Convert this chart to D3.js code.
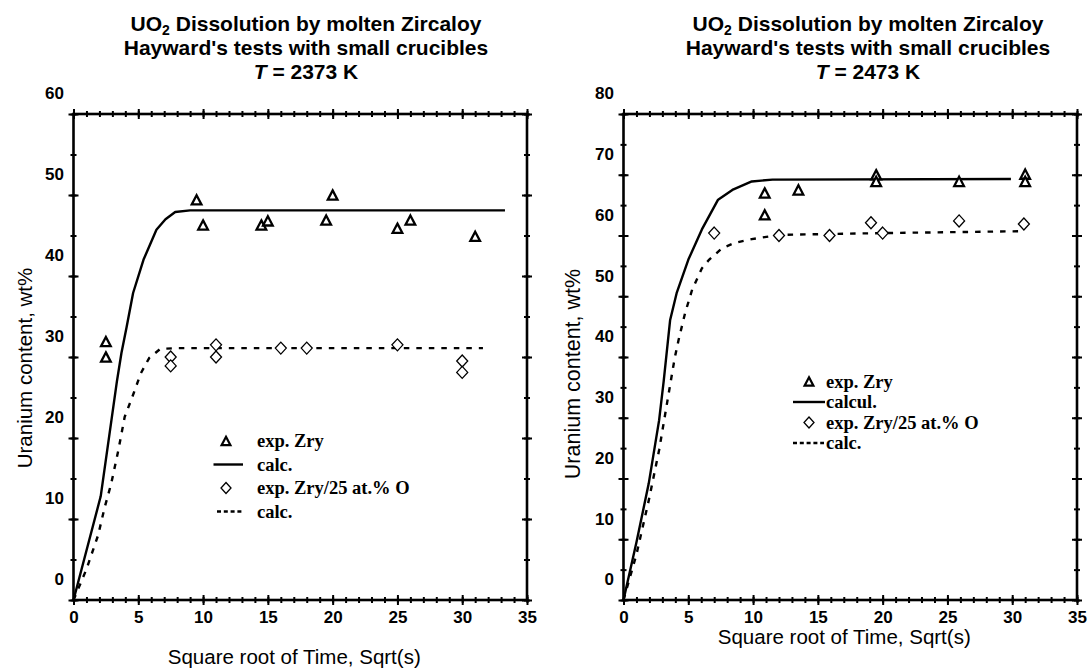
<!DOCTYPE html>
<html>
<head>
<meta charset="utf-8">
<script src="https://cdn.jsdelivr.net/npm/d3@7"></script>
<style>
  body { margin: 0; background: #fff; }
  svg { display: block; }
</style>
</head>
<body>
<div id="canvas"></div>
<script>
"use strict";

// ---- Data ----
let xTickLabels = [0, 5, 10, 15, 20, 25, 30, 35];
let leftYTickLabels = [0, 10, 20, 30, 40, 50, 60];
let rightYTickLabels = [0, 10, 20, 30, 40, 50, 60, 70, 80];

// T = 2373 K
let leftZry = [[2.5, 31.9], [2.5, 30.0], [9.5, 49.4], [10.0, 46.3], [14.5, 46.3], [15.0, 46.8],
  [20.0, 50.0], [19.5, 46.9], [25.0, 45.9], [26.0, 46.9], [31.0, 44.9]];
let leftZryCalc = [[0, 0], [2.1, 12.8], [3.35, 27.0], [3.7, 30.5], [4.1, 33.7], [4.6, 37.9], [5.4, 42.0],
  [6.4, 45.7], [7.1, 47.0], [7.85, 47.9], [9.0, 48.1], [33.3, 48.1]];
let leftZryO = [[7.5, 30.0], [7.5, 28.9], [11.0, 31.5], [11.0, 30.0], [16.0, 31.1], [18.0, 31.1],
  [25.0, 31.5], [30.0, 29.5], [30.0, 28.1]];
let leftZryOCalc = [[0, 0], [1.0, 3.8], [1.9, 8.0], [2.4, 11.4], [2.9, 14.3], [3.45, 18.4], [3.95, 22.6],
  [4.5, 24.9], [5.2, 28.0], [5.85, 29.9], [6.7, 31.0], [8.0, 31.1], [31.6, 31.1]];

// T = 2473 K
let rightZry = [[10.9, 67.0], [10.9, 63.4], [13.5, 67.5], [19.5, 70.0], [19.5, 68.9], [25.9, 68.9],
  [31.0, 70.1], [31.0, 68.9]];
let rightZryCalc = [[0, 0], [1.0, 9.5], [1.95, 19.2], [2.75, 29.6], [3.1, 36.0], [3.6, 46.1], [4.1, 50.5],
  [5.0, 56.0], [6.05, 61.0], [7.3, 65.9], [8.4, 67.5], [9.9, 68.9], [11.5, 69.2], [29.9, 69.3]];
let rightZryO = [[7.0, 60.4], [12.0, 60.0], [15.9, 60.0], [19.1, 62.1], [20.0, 60.4], [25.9, 62.4], [30.9, 61.9]];
let rightZryOCalc = [[0, 0], [1.0, 7.5], [1.95, 16.4], [2.75, 24.7], [3.4, 32.9], [3.95, 39.8], [4.25, 42.8],
  [4.75, 47.2], [5.3, 51.1], [6.05, 54.6], [6.6, 56.0], [7.6, 57.9], [8.6, 58.8], [9.9, 59.4], [12.0, 60.1],
  [20.0, 60.4], [30.5, 60.7]];

let legendLabelsLeft = ["exp. Zry", "calc.", "exp. Zry/25 at.% O", "calc."];
let legendLabelsRight = ["exp. Zry", "calcul.", "exp. Zry/25 at.% O", "calc."];

// ---- Canvas ----
let svgWidth = 1089;
let svgHeight = 670;
let sansFont = "'Liberation Sans', Arial, sans-serif";
let serifFont = "'Liberation Serif', 'Times New Roman', serif";

let svg = d3.select("#canvas")
  .append("svg")
  .attr("width", svgWidth)
  .attr("height", svgHeight);

svg.append("rect").attr("width", svgWidth).attr("height", svgHeight).attr("fill", "white");

// panel layout (pixels)
let panels = [
  {
    left: 73.5, right: 527, top: 114, bottom: 600, yMax: 60, yLabels: leftYTickLabels,
    temp: "2373", titleX: 306, xTitleY: 664, yTitleX: 32, yTitleY: 368, yTitleSize: 20.5,
    zry: leftZry, zryCalc: leftZryCalc, zryO: leftZryO, zryOCalc: leftZryOCalc,
    legendLabels: legendLabelsLeft,
    legend: { textX: 257, rows: [441, 464.5, 488, 511.5], sym: 226, lineX0: 213.5, lineX1: 243, dashX0: 217 }
  },
  {
    left: 623.5, right: 1077, top: 114, bottom: 600, yMax: 80, yLabels: rightYTickLabels,
    temp: "2473", titleX: 868, xTitleY: 644, yTitleX: 580, yTitleY: 374, yTitleSize: 21.5,
    zry: rightZry, zryCalc: rightZryCalc, zryO: rightZryO, zryOCalc: rightZryOCalc,
    legendLabels: legendLabelsRight,
    legend: { textX: 826, rows: [381.5, 402, 422.5, 443], sym: 809, lineX0: 793, lineX1: 825, dashX0: 793 }
  }
];

// marker shapes
function trianglePath(s) {
  return "M0," + (-s) + "L" + (s * 1.05) + "," + s + "L" + (-s * 1.05) + "," + s + "Z";
}
function diamondPath(w, h) {
  return "M0," + (-h) + "L" + w + ",0L0," + h + "L" + (-w) + ",0Z";
}

panels.forEach(function(p) {
  let g = svg.append("g");

  let xScale = d3.scaleLinear().domain([0, 35]).range([p.left, p.right]);
  let yScale = d3.scaleLinear().domain([0, p.yMax]).range([p.bottom, p.top]);

  // Title (three lines, subscript 2, italic T)
  let t1 = g.append("text")
    .attr("x", p.titleX).attr("y", 31)
    .attr("text-anchor", "middle")
    .style("font-family", sansFont)
    .style("font-size", "21px")
    .style("font-weight", "700");
  t1.append("tspan").text("UO");
  t1.append("tspan").attr("baseline-shift", "-4").style("font-size", "14px").text("2");
  t1.append("tspan").text(" Dissolution by molten Zircaloy");

  g.append("text")
    .attr("x", p.titleX).attr("y", 55)
    .attr("text-anchor", "middle")
    .style("font-family", sansFont)
    .style("font-size", "21px")
    .style("font-weight", "700")
    .text("Hayward's tests with small crucibles");

  let t3 = g.append("text")
    .attr("x", p.titleX).attr("y", 79)
    .attr("text-anchor", "middle")
    .style("font-family", sansFont)
    .style("font-size", "21px")
    .style("font-weight", "700");
  t3.append("tspan").style("font-style", "italic").text("T");
  t3.append("tspan").text(" = " + p.temp + " K");

  // Axes: minor ticks first, then major ticks with labels
  function styleTicks(axisG, half, horizontal) {
    axisG.select(".domain").remove();
    axisG.selectAll(".tick line")
      .attr("stroke", "#000")
      .attr("stroke-width", 2)
      .attr(horizontal ? "y1" : "x1", -half)
      .attr(horizontal ? "y2" : "x2", half);
  }

  let xMinor = d3.range(0, 36, 1);
  let yMinor = d3.range(0, p.yMax + 1, 5);

  let bottomMinor = g.append("g").attr("transform", "translate(0," + p.bottom + ")")
    .call(d3.axisBottom(xScale).tickValues(xMinor).tickFormat(""));
  styleTicks(bottomMinor, 3, true);
  let topMinor = g.append("g").attr("transform", "translate(0," + p.top + ")")
    .call(d3.axisTop(xScale).tickValues(xMinor).tickFormat(""));
  styleTicks(topMinor, 3, true);
  let leftMinor = g.append("g").attr("transform", "translate(" + p.left + ",0)")
    .call(d3.axisLeft(yScale).tickValues(yMinor).tickFormat(""));
  styleTicks(leftMinor, 3, false);
  let rightMinor = g.append("g").attr("transform", "translate(" + p.right + ",0)")
    .call(d3.axisRight(yScale).tickValues(yMinor).tickFormat(""));
  styleTicks(rightMinor, 3, false);

  let xAxis = g.append("g").attr("transform", "translate(0," + p.bottom + ")")
    .call(d3.axisBottom(xScale).tickValues(xTickLabels).tickFormat(d3.format("d")));
  styleTicks(xAxis, 5, true);
  xAxis.selectAll(".tick text")
    .attr("y", 10.5)
    .attr("dy", "0.71em")
    .attr("fill", "#000")
    .style("font-family", sansFont)
    .style("font-size", "17px")
    .style("font-weight", "700");
  let xTop = g.append("g").attr("transform", "translate(0," + p.top + ")")
    .call(d3.axisTop(xScale).tickValues(xTickLabels).tickFormat(""));
  styleTicks(xTop, 5, true);

  // y labels sit about 21px above their ticks in the original
  let yAxis = g.append("g").attr("transform", "translate(" + p.left + ",0)")
    .call(d3.axisLeft(yScale).tickValues(p.yLabels).tickFormat(d3.format("d")));
  styleTicks(yAxis, 5, false);
  yAxis.selectAll(".tick text")
    .attr("x", -9.5)
    .attr("y", -21)
    .attr("dy", "0.35em")
    .attr("fill", "#000")
    .style("font-family", sansFont)
    .style("font-size", "17px")
    .style("font-weight", "700");
  let yRight = g.append("g").attr("transform", "translate(" + p.right + ",0)")
    .call(d3.axisRight(yScale).tickValues(p.yLabels).tickFormat(""));
  styleTicks(yRight, 5, false);

  // Frame
  g.append("rect")
    .attr("x", p.left).attr("y", p.top)
    .attr("width", p.right - p.left).attr("height", p.bottom - p.top)
    .attr("fill", "none")
    .attr("stroke", "#000")
    .attr("stroke-width", 2.6);

  // Axis titles
  g.append("text")
    .attr("x", (p.left + p.right) / 2 - 6)
    .attr("y", p.xTitleY)
    .attr("text-anchor", "middle")
    .style("font-family", sansFont)
    .style("font-size", "20.5px")
    .text("Square root of Time, Sqrt(s)");
  g.append("text")
    .attr("transform", "translate(" + p.yTitleX + "," + p.yTitleY + ") rotate(-90)")
    .attr("text-anchor", "middle")
    .style("font-family", sansFont)
    .style("font-size", p.yTitleSize + "px")
    .text("Uranium content, wt%");

  // Calculated curves
  let line = d3.line()
    .x(function(d) { return xScale(d[0]); })
    .y(function(d) { return yScale(d[1]); });

  g.append("path")
    .attr("d", line(p.zryCalc))
    .attr("fill", "none")
    .attr("stroke", "#000")
    .attr("stroke-width", 2.4)
    .attr("stroke-linejoin", "round");
  g.append("path")
    .attr("d", line(p.zryOCalc))
    .attr("fill", "none")
    .attr("stroke", "#000")
    .attr("stroke-width", 2.4)
    .attr("stroke-dasharray", "5.5,7");

  // Experimental points
  g.selectAll(".tri")
    .data(p.zry)
    .enter()
    .append("path")
    .attr("class", "tri")
    .attr("transform", function(d) { return "translate(" + xScale(d[0]) + "," + yScale(d[1]) + ")"; })
    .attr("d", trianglePath(4.6))
    .attr("fill", "white")
    .attr("stroke", "#000")
    .attr("stroke-width", 2.3)
    .attr("stroke-linejoin", "miter");
  g.selectAll(".dia")
    .data(p.zryO)
    .enter()
    .append("path")
    .attr("class", "dia")
    .attr("transform", function(d) { return "translate(" + xScale(d[0]) + "," + yScale(d[1]) + ")"; })
    .attr("d", diamondPath(5.5, 6))
    .attr("fill", "white")
    .attr("stroke", "#000")
    .attr("stroke-width", 1.3);

  // Legend
  let lg = p.legend;
  g.append("path")
    .attr("transform", "translate(" + lg.sym + "," + lg.rows[0] + ")")
    .attr("d", trianglePath(4.2))
    .attr("fill", "white").attr("stroke", "#000").attr("stroke-width", 2.2);
  g.append("line")
    .attr("x1", lg.lineX0).attr("x2", lg.lineX1)
    .attr("y1", lg.rows[1]).attr("y2", lg.rows[1])
    .attr("stroke", "#000").attr("stroke-width", 2.4);
  g.append("path")
    .attr("transform", "translate(" + lg.sym + "," + lg.rows[2] + ")")
    .attr("d", diamondPath(5, 5.5))
    .attr("fill", "white").attr("stroke", "#000").attr("stroke-width", 1.3);
  g.append("line")
    .attr("x1", lg.dashX0).attr("x2", lg.lineX1 - 1)
    .attr("y1", lg.rows[3]).attr("y2", lg.rows[3])
    .attr("stroke", "#000").attr("stroke-width", 2.4)
    .attr("stroke-dasharray", "4,2.8");

  p.legendLabels.forEach(function(label, i) {
    g.append("text")
      .attr("x", lg.textX)
      .attr("y", lg.rows[i])
      .attr("dy", "0.35em")
      .style("font-family", serifFont)
      .style("font-size", "18.5px")
      .style("font-weight", "700")
      .text(label);
  });
});
</script>
</body>
</html>
